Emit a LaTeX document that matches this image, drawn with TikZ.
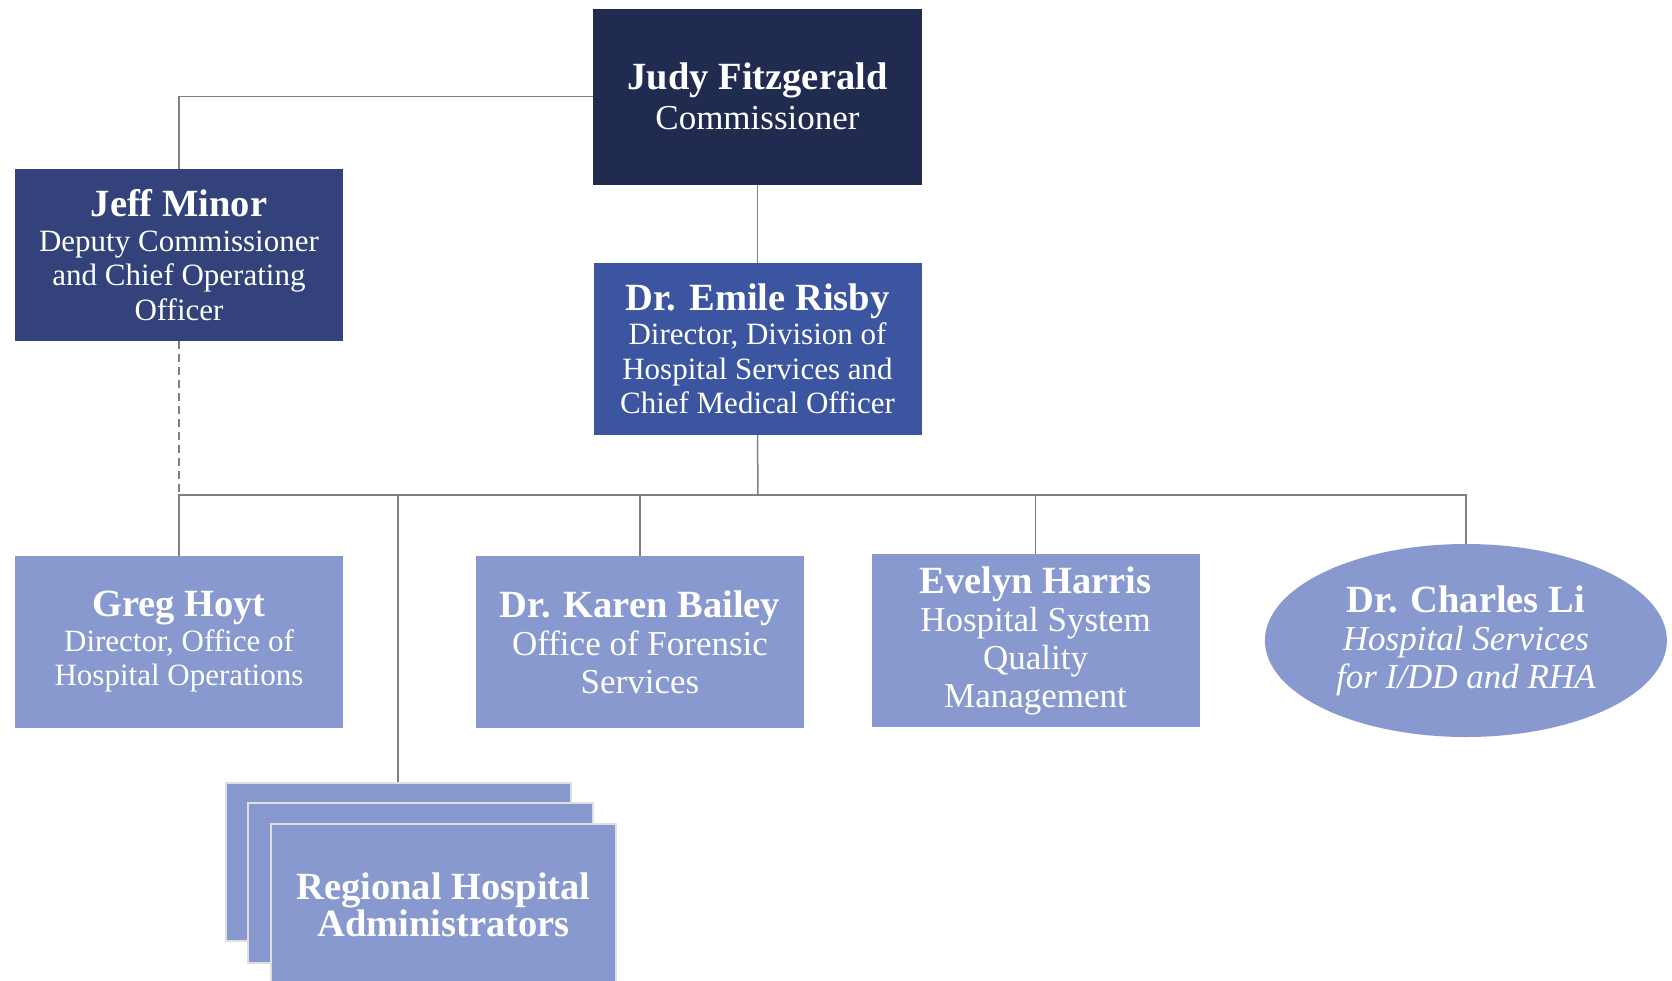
\documentclass[tikz,border=0pt]{standalone}
\usepackage{fontspec}
\setmainfont{Liberation Serif}
\usetikzlibrary{positioning,shapes.geometric}

\definecolor{navy}{HTML}{212B50}
\definecolor{deputyblue}{HTML}{33427A}
\definecolor{directorblue}{HTML}{3B55A0}
\definecolor{unitblue}{HTML}{8899D0}
\definecolor{linegray}{HTML}{808080}

\newcommand{\namefont}{\fontsize{38.5}{38}\selectfont\bfseries}
\newcommand{\descfont}{\fontsize{31}{34.5}\selectfont}
\newcommand{\widefont}{\fontsize{35}{38}\selectfont}

\tikzset{
  orgbox/.style={rectangle, text=white, align=center, inner sep=0pt,
    font=\descfont, minimum width=328pt, minimum height=172pt},
  unitbox/.style={orgbox, fill=unitblue},
  stackbox/.style={orgbox, fill=unitblue, draw=gray!25, line width=2pt,
    font=\fontsize{38.5}{37}\selectfont,
    minimum width=345pt, minimum height=160pt},
  link/.style={draw=linegray, line width=1.5pt},
}

\begin{document}
\begin{tikzpicture}[x=1pt,y=-1pt]
	\useasboundingbox (0,0) rectangle (1672,980);
	
	% top of the chart
	\node[orgbox, fill=navy, font=\fontsize{35}{39.5}\selectfont,
		minimum width=329pt, minimum height=176pt] (judy) at (757.5,96.5)
		{{\namefont Judy Fitzgerald}\\Commissioner};
	\node[orgbox, fill=deputyblue] (jeff) at (179,255)
		{{\namefont Jeff Minor}\\Deputy Commissioner\\and Chief Operating\\Officer};
	\node[orgbox, fill=directorblue, below=78pt of judy] (emile)
		{{\namefont Dr. Emile Risby}\\Director, Division of\\Hospital Services and\\Chief Medical Officer};
	
	% second row
	\node[unitbox] (greg) at (179,642)
		{{\namefont Greg Hoyt}\\Director, Office of\\Hospital Operations};
	\node[unitbox, font=\widefont] (karen) at (640,642)
		{{\namefont Dr. Karen Bailey}\\Office of Forensic\\Services};
	\node[unitbox, font=\widefont, minimum height=173pt] (evelyn) at (1035.5,640.5)
		{{\namefont Evelyn Harris}\\Hospital System\\Quality\\Management};
	\node[ellipse, fill=unitblue, text=white, align=center, inner sep=0pt, font=\widefont,
		minimum width=402pt, minimum height=193pt, right=65pt of evelyn] (charles)
		{{\namefont Dr. Charles Li}\\{\itshape Hospital Services}\\{\itshape for I/DD and RHA}};
	
	% stacked administrators
	\node[stackbox, minimum height=158pt] (reg1) at (398,862) {};
	\node[stackbox] (reg2) at ([xshift=22.5pt,yshift=-21pt]reg1.center) {};
	\node[stackbox, minimum height=162pt] (reg3) at ([xshift=23pt,yshift=-22pt]reg2.center)
		{{\namefont Regional Hospital}\\{\namefont Administrators}};
	
	\coordinate (bus) at (758,495);
	
	\draw[link] (judy.west) -| (jeff.north);
	\draw[link] (judy.south) -- (emile.north);
	\draw[link] (emile.south) -- (bus);
	\draw[link] (bus) -| (greg.north);
	\draw[link] (bus) -| (reg1.north);
	\draw[link] (bus) -| (karen.north);
	\draw[link] (bus) -| (evelyn.north);
	\draw[link] (bus) -| (charles.north);
	\draw[link, dashed, dash pattern=on 8pt off 5pt] (jeff.south) -- (greg.north);
\end{tikzpicture}
\end{document}
